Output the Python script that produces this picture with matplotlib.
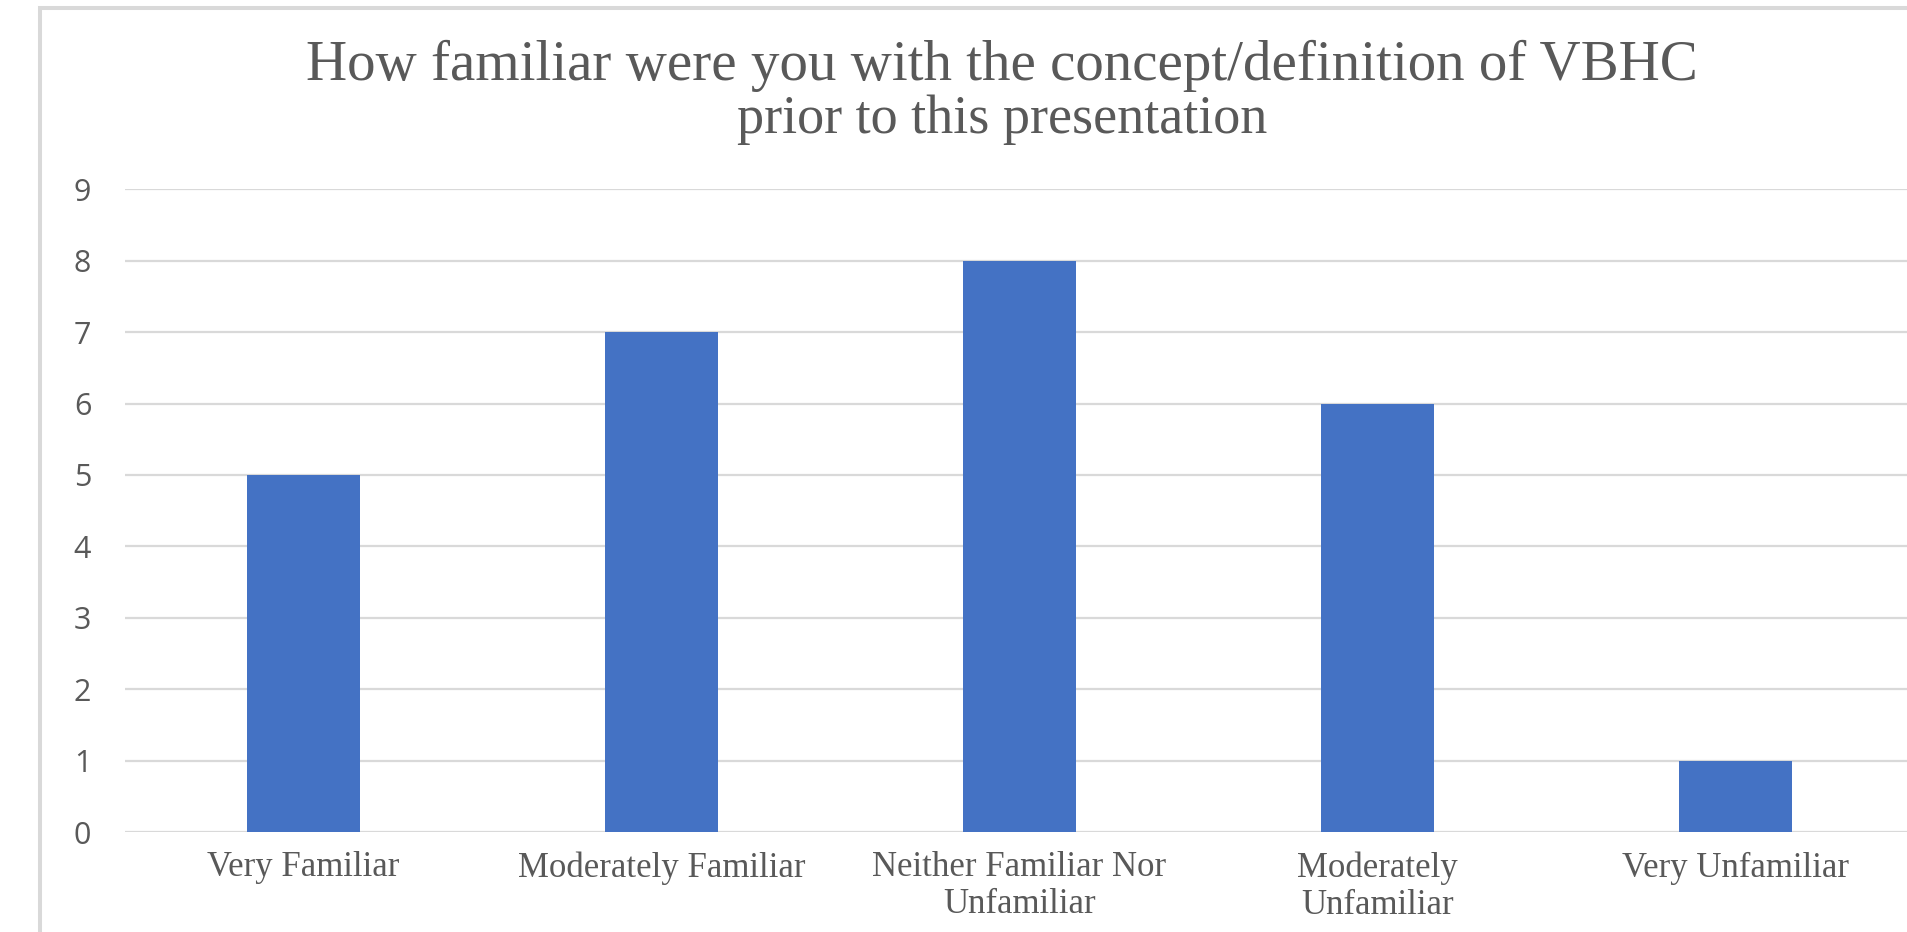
import matplotlib
matplotlib.use("Agg")
import matplotlib.pyplot as plt
from matplotlib.patches import Rectangle

# ---- data ----
categories = ["Very Familiar", "Moderately Familiar", "Neither Familiar Nor\nUnfamiliar",
              "Moderately\nUnfamiliar", "Very Unfamiliar"]
counts = [5, 7, 8, 6, 1]
title_lines = ["How familiar were you with the concept/definition of VBHC",
               "prior to this presentation"]
y_ticks = list(range(0, 10))

W, H = 1908, 932
fig = plt.figure(figsize=(W / 100, H / 100), dpi=100)
fig.patch.set_facecolor("white")

text_color = "#595959"
grid_color = "#d9d9d9"
bar_color = "#4472C4"

# chart-area border (extends past the cropped right/bottom edges)
border = Rectangle((40.5 / W, 0 - 0.05), 1.1, 1 - 7.5 / H + 0.05,
                   transform=fig.transFigure, fill=False,
                   edgecolor=grid_color, linewidth=2.9, zorder=0)
fig.patches.append(border)

left = 124.7 / W
bottom = (H - 832) / H
height = (832 - 189.3) / H
ax = fig.add_axes([left, bottom, 1 - left, height])
ax.set_facecolor("none")

x = list(range(len(categories)))
ax.bar(x, counts, width=0.316, color=bar_color, zorder=3)

ax.set_ylim(0, 9)
ax.set_xlim(-0.5, -0.5 + (W - 124.7) / 357.9)
ax.set_yticks(y_ticks)
ax.set_yticklabels([str(v) for v in y_ticks], fontfamily="Open Sans",
                   fontsize=22, color=text_color)
ax.set_xticks(x)
ax.set_xticklabels(categories, fontfamily="Liberation Serif", fontsize=25,
                   color=text_color, linespacing=1.15)
ax.tick_params(axis="y", length=0, pad=24)
ax.tick_params(axis="x", length=0, pad=14)

for s in ax.spines.values():
    s.set_visible(False)
ax.grid(axis="y", color=grid_color, linewidth=1.6, zorder=0)
ax.set_axisbelow(True)

cx = 1002 / W
fig.text(cx, 1 - 80 / H, title_lines[0], ha="center", va="baseline",
         fontfamily="Liberation Serif", fontsize=41, color=text_color)
fig.text(cx, 1 - 133 / H, title_lines[1], ha="center", va="baseline",
         fontfamily="Liberation Serif", fontsize=39, color=text_color)

fig.savefig("out.png", dpi=100)
